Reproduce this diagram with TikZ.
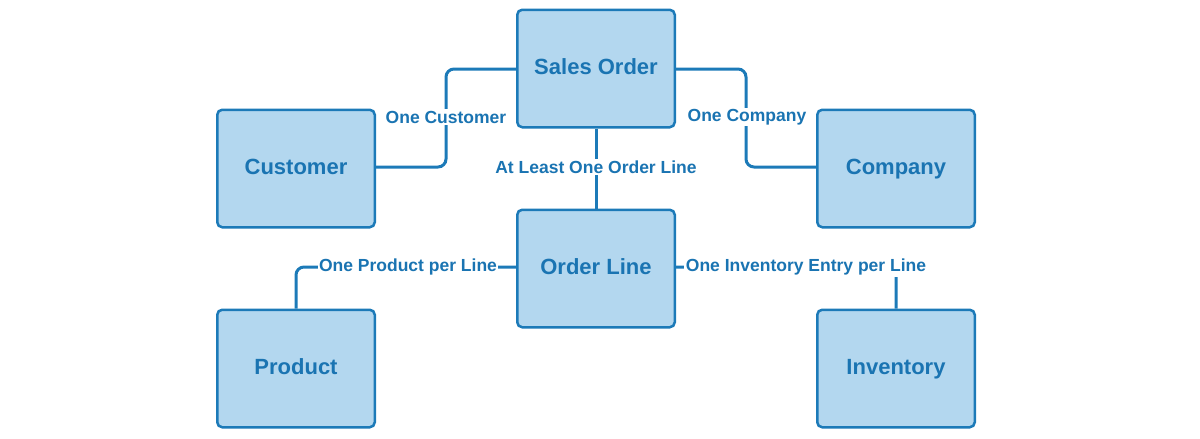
\documentclass[tikz,border=0pt]{standalone}
\usepackage{fontspec}
\setmainfont{Liberation Sans}
\definecolor{boxfill}{HTML}{B3D7EF}
\definecolor{boxline}{HTML}{1C7AB8}
\definecolor{txt}{HTML}{1A74B2}
\tikzset{
  entity/.style={draw=boxline, fill=boxfill, line width=2.5pt, rounded corners=5pt,
    minimum width=157.5pt, minimum height=117.5pt, inner sep=0pt,
    text height=15.8pt, text depth=4pt,
    font=\bfseries\fontsize{22}{26}\selectfont, text=txt},
  conn/.style={draw=boxline, line width=3pt, rounded corners=8pt},
  lbl/.style={fill=white, inner sep=1.5pt, font=\bfseries\fontsize{17.5}{20}\selectfont, text=txt}
}
\begin{document}
\begin{tikzpicture}[x=1pt,y=-1pt]
\useasboundingbox (0,0) rectangle (1200,439);
\node[entity] (so) at (596,68.5) {Sales Order};
\node[entity] (cu) at (296,168.5) {Customer};
\node[entity] (co) at (896,168.5) {Company};
\node[entity] (ol) at (596,268.5) {Order Line};
\node[entity] (pr) at (296,368.5) {Product};
\node[entity] (in) at (896,368.5) {Inventory};
\coordinate (c1) at (446,167);
\coordinate (c2) at (446,69);
\coordinate (c3) at (746,69);
\coordinate (c4) at (746,167);
\coordinate (c5) at (296,267);
\coordinate (c6) at (896,267);
\draw[conn] (cu.east |- c1) -- (c1) -- (c2) -- (so.west |- c2);
\draw[conn] (so.east |- c3) -- (c3) -- (c4) -- (co.west |- c4);
\draw[conn] (so.south) -- (ol.north);
\draw[conn] (ol.west |- c5) -- (c5) -- (pr.north);
\draw[conn] (ol.east |- c6) -- (c6) -- (in.north);
\node[lbl] (l1) at (446,117) {One Customer};
\node[lbl] (l2) at (747,117) {One Company};
\node[lbl] (l3) at (596,167) {At Least One Order Line};
\node[lbl] (l4) at (408,267) {One Product per Line};
\node[lbl] (l5) at (806,267) {One Inventory Entry per Line};
\end{tikzpicture}
\end{document}
